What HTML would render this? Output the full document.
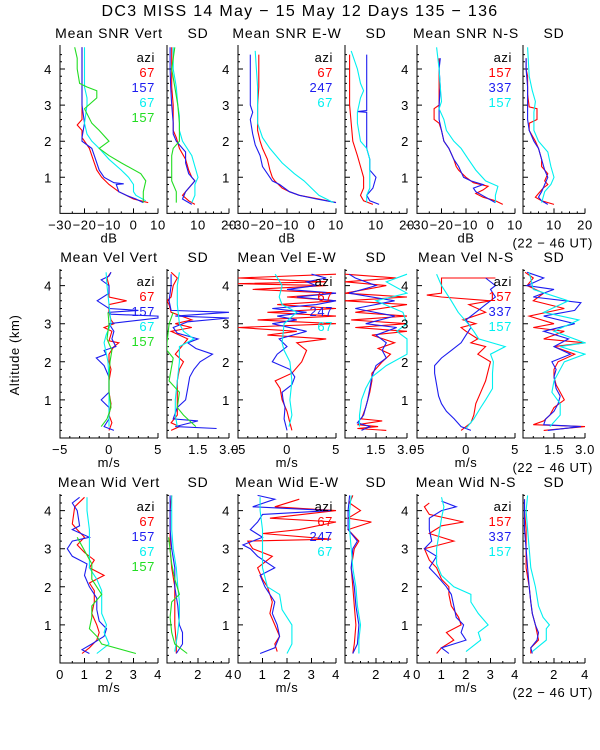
<!DOCTYPE html>
<html><head><meta charset="utf-8"><style>
body{margin:0;background:#fff;}
svg{display:block;font-family:"Liberation Sans",sans-serif;}
text{font-size:13px;fill:#000;letter-spacing:0.6px;}
</style></head><body>
<svg id="chart" width="600" height="750" viewBox="0 0 600 750" xmlns="http://www.w3.org/2000/svg">
<text x="300" y="16" text-anchor="middle" style="font-size:16px;letter-spacing:1.3px">DC3 MISS  14 May − 15 May 12 Days 135 − 136</text>
<text transform="translate(19,355) rotate(-90)" text-anchor="middle">Altitude (km)</text>
</svg>
<script>
// ---------- data ----------
const colors = {r:"#ff0000", b:"#1c1cf0", c:"#00f0f0", g:"#22dd22"};
const rowTitles = [["Mean SNR Vert","SD","Mean SNR E-W","SD","Mean SNR N-S","SD"],
  ["Mean Vel Vert","SD","Mean Vel E-W","SD","Mean Vel N-S","SD"],
  ["Mean Wid Vert","SD","Mean Wid E-W","SD","Mean Wid N-S","SD"]];
const legendAzi = [[["67","r"],["157","b"],["67","c"],["157","g"]],[["67","r"],["247","b"],["67","c"]],[["157","r"],["337","b"],["157","c"]]];
const meanTicks = [[-30,-20,-10,0,10],[-5,0,5],[0,1,2,3,4]];
const sdTicks = [[10,20],[1.5,3.0],[2,4]];
const sdTickText = [["10","20"],["1.5","3.0"],["2","4"]];
const units = ["dB","m/s","m/s"];

// SNR row [alt, value]
const snrVertR=[[0.3,6],[0.35,3],[0.4,0],[0.5,-3],[0.6,-6],[0.8,-10],[1.0,-13],[1.2,-15],[1.4,-16],[1.6,-17],[1.8,-18],[2.0,-20],[2.1,-21],[2.3,-21],[2.45,-23],[2.6,-21],[3,-21],[3.5,-21],[4,-21],[4.6,-21]];
const snrVertB=[[0.3,4],[0.4,1],[0.5,-3],[0.6,-6],[0.8,-7],[0.82,-4],[0.85,-8],[1,-12],[1.2,-14],[1.4,-15],[1.6,-16],[1.8,-17],[2.0,-21],[2.1,-21],[2.5,-20],[3,-21],[3.5,-21],[4,-21],[4.6,-21]];
const snrVertC=[[0.35,5],[0.5,1],[0.6,0],[0.8,0],[1.0,-2],[1.2,-5],[1.5,-10],[1.8,-14],[2.0,-17],[2.2,-19],[2.5,-20],[3,-19],[3.2,-19],[3.5,-20],[4,-20],[4.6,-20]];
const snrVertG=[[0.3,4],[0.6,4],[0.9,5],[1.1,3],[1.4,-5],[1.6,-10],[1.8,-14],[2.0,-10],[2.3,-14],[2.5,-17],[2.9,-20],[3.2,-15],[3.4,-15],[3.5,-19],[3.6,-22],[4.0,-23],[4.3,-23],[4.6,-24]];
const sdSnrVertR=[[0.25,9],[0.35,7],[0.5,5],[0.7,7],[0.9,9],[1.0,8],[1.2,7],[1.5,6],[1.8,4],[2.1,3],[2.3,2],[2.5,2],[3,2],[3.5,1.5],[4,1.5],[4.6,1.5]];
const sdSnrVertB=[[0.25,8],[0.4,5],[0.6,6],[0.8,8],[0.9,9],[1.1,7],[1.4,6],[1.7,6],[2.0,3],[2.2,2],[2.5,2],[3,1.5],[3.5,1.2],[4,1],[4.6,1]];
const sdSnrVertC=[[0.3,8],[0.5,9],[0.8,9],[1.0,10],[1.3,9],[1.6,8],[2.0,5],[2.3,4],[2.7,4],[3,3.5],[3.5,3],[4,2],[4.6,2]];
const sdSnrVertG=[[0.3,3],[0.6,3],[0.9,1.5],[1.3,1.5],[1.6,1.5],[1.8,2],[2,4],[2.5,4],[3,3.5],[3.5,2.5],[4,1.5],[4.6,2.5]];
const snrEwR=[[0.3,10],[0.4,3],[0.5,-5],[0.6,-9],[0.7,-12],[0.9,-15],[1.0,-16],[1.2,-17],[1.5,-18],[1.8,-20],[2.0,-21],[2.3,-22],[2.6,-22],[3,-22],[3.5,-21.5],[4,-21.5],[4.4,-21.5]];
const snrEwB=[[0.3,10],[0.4,2],[0.5,-5],[0.6,-9],[0.8,-13],[0.9,-16],[1.1,-18],[1.3,-20],[1.6,-21],[1.9,-23],[2.2,-24],[2.6,-25],[2.8,-24],[3,-25],[3.5,-25],[4,-25],[4.4,-25]];
const snrEwC=[[0.3,9],[0.5,3],[0.7,0],[0.9,-3],[1.1,-7],[1.4,-12],[1.8,-17],[2.1,-20],[2.5,-22],[3,-22],[3.5,-22],[4,-22.5],[4.5,-23]];
const sdSnrEwR=[[0.25,9],[0.35,6],[0.5,5],[0.7,6],[1.0,6],[1.3,5],[1.6,4],[2,2.5],[2.5,2],[3,1.5],[3.5,1.5],[4,1.5],[4.4,1.5]];
const sdSnrEwB=[[0.25,11],[0.35,8],[0.5,7],[0.7,9],[1.0,10],[1.2,8],[1.5,8],[1.8,7],[2,7],[2.5,7],[2.8,7],[2.82,4],[2.85,7],[3.5,7],[4,7],[4.4,7]];
const sdSnrEwC=[[0.3,7],[0.5,7],[0.7,8],[1.0,8],[1.5,8],[1.8,7],[2,5],[2.5,4],[2.8,4],[3.2,5],[3.4,6],[3.6,5],[4,4],[4.5,2]];
const snrNsR=[[0.25,5],[0.35,2],[0.45,-3],[0.55,-6],[0.65,-3],[0.75,-1],[0.85,-7],[1.0,-10],[1.2,-13],[1.3,-14],[1.5,-15],[1.8,-17],[2,-19],[2.3,-20],[2.5,-21],[2.6,-23],[2.9,-23],[3,-21],[3.5,-21],[4,-21],[4.3,-21]];
const snrNsB=[[0.3,2],[0.45,-2],[0.6,-6],[0.7,-7],[0.8,-3],[0.9,-8],[1.0,-11],[1.3,-13],[1.5,-15],[1.8,-17],[2,-19],[2.3,-20],[2.6,-21],[3,-21],[3.5,-20.5],[4,-21],[4.3,-20.5]];
const snrNsC=[[0.3,2],[0.5,2],[0.75,3],[0.9,-2],[1.2,-6],[1.5,-9],[1.8,-12],[2.0,-15],[2.3,-18],[2.6,-19],[2.9,-21],[3.1,-20],[3.5,-20.5],[4,-21],[4.6,-22]];
const sdSnrNsR=[[0.25,10],[0.35,6],[0.45,4],[0.55,5],[0.7,6.5],[0.8,8],[0.9,7],[1.1,8],[1.3,6],[1.5,6],[1.8,5],[2.0,4],[2.3,2],[2.5,2],[2.6,4.5],[2.9,4.5],[2.95,2],[3.3,1.5],[3.8,1.5],[4,1],[4.3,1]];
const sdSnrNsB=[[0.25,8],[0.35,6],[0.45,5],[0.6,6],[0.8,7],[1.0,8],[1.2,7],[1.5,6],[1.8,5],[2,3.5],[2.3,2],[2.6,1.5],[3,1.5],[3.5,1.5],[4,1],[4.3,1]];
const sdSnrNsC=[[0.3,6],[0.6,7],[0.8,9],[1.0,10],[1.3,9],[1.7,8],[2.0,5],[2.3,3.5],[2.8,3.5],[3.1,4],[3.4,3],[3.8,2],[4.6,1.5]];

// Velocity row
const velVertR=[[0.2,0],[0.4,0.3],[0.6,0],[0.9,0.2],[1.2,0],[1.5,0],[1.8,0.2],[2.0,0],[2.2,0],[2.4,0.5],[2.5,1],[2.55,0],[2.8,0.3],[2.9,-0.5],[3.0,0.5],[3.1,0.2],[3.3,0],[3.5,0],[3.6,1.8],[3.7,0],[4.0,0],[4.2,-0.2],[4.35,0.2]];
const velVertB=[[0.2,0.5],[0.3,-0.5],[0.5,0],[0.8,0],[1.0,-0.8],[1.2,0],[1.6,0],[1.9,-0.5],[2.1,-1.3],[2.2,-0.3],[2.3,-0.5],[2.4,0.7],[2.6,0.3],[2.8,0.5],[3.0,0],[3.15,5],[3.2,5],[3.25,0.2],[3.3,0],[3.35,3],[3.4,0],[3.6,-1.2],[3.8,0],[4.0,0],[4.15,-0.8],[4.25,0],[4.35,0.2]];
const velVertC=[[0.3,0],[0.7,0],[1.0,0],[1.5,0],[2.0,-0.1],[2.5,-0.5],[2.7,-0.3],[3.0,0.2],[3.5,0],[4.0,-0.2],[4.35,-0.3]];
const velVertG=[[0.3,-0.8],[0.5,-0.2],[0.8,0.2],[1.2,0],[1.6,0],[2.0,0.1],[2.3,0.3],[2.6,-0.2],[3.0,0],[3.3,-0.1]];
const sdVelVertR=[[0.2,0.2],[0.3,0.6],[0.4,0.2],[0.6,0.5],[1.0,0.5],[1.5,0.5],[1.8,0.6],[2.0,0.8],[2.2,0.4],[2.4,0.7],[2.6,1.0],[2.8,0.2],[2.9,1.2],[3.0,0.4],[3.1,1.2],[3.3,0.2],[3.5,0.1],[3.6,0],[3.7,0.2],[4.0,0.3],[4.2,0.5],[4.35,0.2]];
const sdVelVertB=[[0.25,2.4],[0.3,0.4],[0.45,1.5],[0.5,0.3],[0.8,0.5],[1.0,0.9],[1.3,1.0],[1.6,1.1],[1.8,1.3],[2.0,1.6],[2.2,2.2],[2.35,1.4],[2.5,1.0],[2.6,1.5],[2.75,0.5],[2.9,0.3],[3.05,1.0],[3.15,3.0],[3.2,0.4],[3.3,3.0],[3.35,0.2],[3.6,0.1],[4.0,0.2],[4.3,0.2]];
const sdVelVertC=[[0.3,0.5],[0.6,0.4],[1.0,0.4],[1.5,0.5],[2.0,0.6],[2.4,0.6],[2.6,1.3],[2.8,0.8],[3.0,0.6],[3.5,0.5],[4.0,0.5],[4.35,0.6]];
const sdVelVertG=[[0.3,1.4],[0.6,0.8],[0.8,0.5],[1.2,0.6],[1.5,0.1],[1.8,0.2],[2.1,0.3],[2.3,0],[2.5,0],[3.0,0.1],[3.3,0.3]];
const velEwR=[[0.2,0.5],[0.4,0.3],[0.7,0],[1.0,-0.5],[1.3,-0.7],[1.5,-1.2],[1.7,0.5],[2.0,1.5],[2.3,2.0],[2.5,1.0],[2.6,4.0],[2.7,-2],[2.8,1],[2.9,-5],[3.0,5],[3.1,-3],[3.2,5],[3.3,-2],[3.4,5],[3.5,-1],[3.6,5],[3.7,0],[3.8,5],[3.9,-3.5],[4.0,4],[4.05,-5],[4.1,4],[4.2,-5],[4.3,5]];
const velEwB=[[0.2,0],[0.5,-0.3],[0.8,-0.2],[1.0,-0.4],[1.2,-0.5],[1.4,0.5],[1.6,0.8],[1.8,0.3],[2.0,-1.5],[2.2,-1.0],[2.4,0],[2.6,-0.8],[2.8,2],[3.0,-1.5],[3.1,1],[3.2,-1],[3.3,2],[3.4,-1.5],[3.5,3],[3.6,5],[3.7,1],[3.8,5],[3.9,0],[4.0,3],[4.1,2],[4.2,4],[4.3,2.5]];
const velEwC=[[0.3,0.2],[0.6,0.5],[1.0,0.3],[1.5,0.5],[2.0,0.3],[2.3,-0.3],[2.5,-0.5],[3.0,-0.3],[3.3,1],[3.5,-0.5],[3.7,-0.8],[4.0,-0.5],[4.3,-1.2]];
const sdVelEwR=[[0.2,2.0],[0.25,0.6],[0.3,1.6],[0.35,0.6],[0.45,1.8],[0.5,0.8],[0.8,1.0],[1.2,1.2],[1.5,1.3],[1.7,1.3],[2.0,1.8],[2.2,2.2],[2.35,1.6],[2.5,2.4],[2.7,1.3],[2.8,3],[2.9,0.5],[3.0,3],[3.1,0.3],[3.2,3],[3.3,0.5],[3.5,3],[3.6,0],[3.7,3],[3.8,0],[4.0,2],[4.1,0],[4.2,2.5],[4.3,0]];
const sdVelEwB=[[0.2,0.8],[0.3,1.2],[0.4,0.6],[0.6,0.9],[1.0,1.1],[1.3,1.2],[1.6,1.3],[1.9,1.5],[2.1,2.0],[2.3,1.8],[2.5,2.0],[2.7,1.5],[2.9,2.5],[3.0,1.0],[3.2,2.4],[3.4,0.5],[3.6,2.4],[3.8,0.2],[4.0,1.5],[4.2,0.5],[4.3,0.2]];
const sdVelEwC=[[0.3,0.7],[0.6,0.7],[1.0,0.8],[1.3,1.0],[1.6,1.3],[1.9,2.0],[2.2,3.0],[2.6,3.0],[2.8,2.5],[3.0,3.0],[3.3,2.8],[3.6,1.5],[3.8,3.0],[4.1,2.0],[4.3,3.0]];
const velNsR=[[0.2,-0.5],[0.4,0.5],[0.6,0.8],[0.9,1.0],[1.2,1.5],[1.5,2.0],[1.8,2.3],[2.0,2.5],[2.2,1.2],[2.4,2.0],[2.5,0.5],[2.6,1.2],[2.8,0],[2.9,-0.5],[3.0,1.0],[3.1,-0.3],[3.3,2],[3.5,0.3],[3.6,2.5],[3.7,-2.5],[3.75,-4],[3.8,-2.5],[4.2,-2.5],[4.2,3]];
const velNsB=[[0.2,0.5],[0.3,-0.5],[0.5,-1.2],[0.7,-2.0],[0.9,-2.5],[1.1,-2.8],[1.4,-3.0],[1.7,-3.2],[1.9,-3.2],[2.1,-2.5],[2.3,-1.5],[2.5,-0.5],[2.7,0],[2.9,0.5],[3.1,0],[3.3,1.0],[3.5,2.0],[3.7,3],[3.9,2.5],[4.0,3],[4.2,2]];
const velNsC=[[0.25,0],[0.5,0.8],[0.8,1.5],[1.0,2.0],[1.3,2.7],[1.7,2.7],[2.0,2.8],[2.2,2.5],[2.4,4],[2.6,1.3],[2.8,0.8],[3.0,0.2],[3.3,-0.8],[3.6,-1.5],[4.0,-2.5],[4.3,-3.0]];
const sdVelNsR=[[0.2,1.0],[0.3,3],[0.35,0.5],[0.45,1.0],[0.6,1.3],[0.8,1.5],[1.0,2.0],[1.2,1.8],[1.4,1.6],[1.6,1.5],[1.8,1.5],[2.0,1.7],[2.2,2.5],[2.4,1.5],[2.5,3],[2.6,1.0],[2.8,2.0],[2.9,0.5],[3.0,1.5],[3.2,0.3],[3.4,2.0],[3.6,0.5],[3.8,1.0],[4.0,0.2],[4.2,0.5],[4.35,0.1]];
const sdVelNsB=[[0.2,1.2],[0.3,2.8],[0.35,1.0],[0.5,1.1],[0.7,1.5],[0.9,1.7],[1.1,1.8],[1.3,1.6],[1.6,1.5],[1.8,1.6],[2.0,1.4],[2.2,2.3],[2.4,1.5],[2.6,2.2],[2.8,1.0],[3.0,2.5],[3.2,1.0],[3.35,2.5],[3.55,2.8],[3.7,0.5],[3.9,1.5],[4.0,0.2],[4.2,1.0],[4.35,0.2]];
const sdVelNsC=[[0.3,1.3],[0.6,1.8],[0.9,1.8],[1.2,1.4],[1.5,1.5],[1.8,1.8],[2.0,2.0],[2.2,3.0],[2.4,1.8],[2.5,3.0],[2.8,1.5],[3.1,2.7],[3.3,1.0],[3.6,2.2],[3.9,0.5],[4.35,0.3]];

// Width row
const widVertR=[[0.25,0.9],[0.4,1.2],[0.6,1.5],[0.8,1.6],[1.0,1.5],[1.3,1.3],[1.6,1.4],[1.9,1.4],[2.1,1.2],[2.3,1.8],[2.5,1.2],[2.7,1.4],[2.9,1.0],[3.1,0.7],[3.3,1.0],[3.5,0.7],[3.65,0.5],[4.1,0.6],[4.35,1.0]];
const widVertB=[[0.25,1.2],[0.35,0.9],[0.5,1.3],[0.7,1.8],[0.9,1.9],[1.1,1.6],[1.4,1.5],[1.7,1.5],[2.0,1.2],[2.3,1.0],[2.6,1.1],[2.8,0.5],[3.0,0.3],[3.2,0.5],[3.3,1.2],[3.5,0.5],[3.6,0.8],[4.0,0.7],[4.2,0.5],[4.35,0.8]];
const widVertC=[[0.25,1.5],[0.5,2.0],[0.8,1.8],[1.0,1.9],[1.3,1.7],[1.6,1.7],[1.9,1.7],[2.2,1.5],[2.5,1.2],[3.0,1.2],[3.5,1.2],[4.0,1.1],[4.35,1.1]];
const widVertG=[[0.25,3.1],[0.5,1.7],[0.7,1.5],[0.9,1.2],[1.2,1.3],[1.5,1.3],[1.8,1.7],[2.2,1.3],[2.5,1.3],[2.6,1.3],[3.3,0.7]];
const sdWidVertR=[[0.25,0.6],[0.5,0.6],[1.0,0.5],[1.5,0.5],[2.0,0.5],[2.5,0.3],[3.0,0.2],[3.5,0.2],[4.0,0.2],[4.4,0.3]];
const sdWidVertB=[[0.25,0.6],[0.5,1.0],[0.8,1.0],[1.0,0.8],[1.5,0.7],[2.0,0.5],[2.5,0.5],[3.0,0.3],[3.5,0.2],[4.0,0.2],[4.4,0.2]];
const sdWidVertC=[[0.3,0.5],[0.8,0.7],[1.2,0.8],[1.6,0.8],[2.0,0.7],[2.5,0.6],[3.0,0.4],[3.5,0.3],[4.0,0.3],[4.4,0.3]];
const sdWidVertG=[[0.25,1.3],[0.5,0.5],[0.8,0.3],[1.2,0.2],[1.6,0.3],[1.8,0.8],[2.2,0.5],[2.6,0.3],[3.3,0.1]];
const widEwR=[[0.3,1.6],[0.5,1.5],[0.7,1.7],[1.0,1.5],[1.3,1.3],[1.6,1.4],[2.0,1.2],[2.2,1.0],[2.5,0.8],[2.8,1.4],[3.0,0.6],[3.2,0.4],[3.25,3.8],[3.4,1.0],[3.5,2.5],[3.7,4],[3.8,1.3],[4.0,4],[4.1,1.5],[4.3,2.5]];
const widEwB=[[0.25,0.9],[0.4,1.5],[0.7,1.7],[1.0,1.6],[1.3,1.4],[1.6,1.5],[2.0,1.1],[2.3,0.9],[2.5,1.5],[2.8,0.8],[3.0,0.5],[3.1,0.2],[3.3,1.0],[3.5,0.5],[3.7,0.8],[3.9,1.0],[4.0,3.8],[4.1,0.6],[4.3,1.5],[4.4,0.8]];
const widEwC=[[0.25,2.0],[0.5,2.2],[1.0,2.2],[1.4,1.8],[1.8,1.7],[2.0,1.2],[2.5,1.0],[3.0,1.0],[3.5,1.0],[4.0,0.9],[4.35,0.9]];
const sdWidEwR=[[0.25,0.5],[0.5,0.6],[1.0,0.7],[1.5,0.6],[2.0,0.5],[2.5,0.4],[3.0,0.6],[3.2,0.9],[3.5,0.2],[3.7,1.7],[3.8,0.2],[4.0,1.0],[4.2,0.3],[4.4,0.5]];
const sdWidEwB=[[0.25,0.5],[0.5,0.8],[1.0,0.9],[1.5,0.7],[2.0,0.6],[2.5,0.4],[3.0,0.5],[3.2,0.8],[3.5,0.2],[4.0,0.2],[4.4,0.3]];
const sdWidEwC=[[0.25,0.9],[0.6,0.9],[1.0,1.0],[1.5,0.8],[2.0,0.7],[2.5,0.5],[3.0,0.4],[3.5,0.3],[4.0,0.3],[4.4,0.4]];
const widNsR=[[0.25,0.8],[0.4,1.0],[0.6,1.5],[0.8,1.2],[1.0,1.8],[1.2,1.7],[1.5,1.4],[1.8,1.3],[2.0,1.3],[2.2,1.0],[2.5,0.8],[2.7,0.5],[3.0,0.3],[3.2,1.5],[3.4,0.5],[3.6,1.0],[3.7,1.9],[3.9,0.5],[4.1,0.3],[4.2,0.5]];
const widNsB=[[0.25,1.3],[0.4,1.0],[0.6,2.0],[0.8,1.8],[1.0,1.9],[1.2,1.6],[1.5,1.5],[1.8,1.4],[2.0,1.2],[2.3,0.8],[2.5,0.5],[2.8,0.8],[3.0,0.3],[3.2,0.6],[3.5,0.5],[3.8,0.5],[4.0,1.0],[4.1,1.6],[4.25,1.0]];
const widNsC=[[0.3,2.0],[0.6,2.6],[0.8,2.5],[1.0,2.9],[1.3,2.5],[1.6,2.2],[1.8,2.2],[2.0,1.5],[2.3,1.0],[2.6,0.8],[3.0,0.8],[3.4,0.9],[3.8,1.0],[4.1,1.1],[4.35,1.0]];
const sdWidNsR=[[0.25,0.5],[0.4,0.5],[0.6,1.0],[0.8,0.9],[1.0,0.8],[1.3,0.6],[1.6,0.5],[2.0,0.4],[2.5,0.2],[3.0,0.2],[3.5,0.2],[4.0,0.1],[4.3,0.1]];
const sdWidNsB=[[0.25,0.6],[0.4,0.5],[0.6,0.9],[0.8,1.0],[1.0,0.8],[1.3,0.6],[1.6,0.5],[2.0,0.4],[2.5,0.3],[3.0,0.2],[3.5,0.1],[4.0,0.1],[4.3,0.1]];
const sdWidNsC=[[0.3,0.6],[0.6,1.5],[0.9,1.5],[1.0,1.7],[1.2,1.3],[1.5,1.0],[2.0,0.8],[2.5,0.5],[3.0,0.4],[3.5,0.3],[4.0,0.2],[4.4,0.3]];

const panelSeries = [
 [[["r",snrVertR],["b",snrVertB],["c",snrVertC],["g",snrVertG]],[["r",sdSnrVertR],["b",sdSnrVertB],["c",sdSnrVertC],["g",sdSnrVertG]],
  [["r",snrEwR],["b",snrEwB],["c",snrEwC]],[["r",sdSnrEwR],["b",sdSnrEwB],["c",sdSnrEwC]],
  [["r",snrNsR],["b",snrNsB],["c",snrNsC]],[["r",sdSnrNsR],["b",sdSnrNsB],["c",sdSnrNsC]]],
 [[["r",velVertR],["b",velVertB],["c",velVertC],["g",velVertG]],[["r",sdVelVertR],["b",sdVelVertB],["c",sdVelVertC],["g",sdVelVertG]],
  [["r",velEwR],["b",velEwB],["c",velEwC]],[["r",sdVelEwR],["b",sdVelEwB],["c",sdVelEwC]],
  [["r",velNsR],["b",velNsB],["c",velNsC]],[["r",sdVelNsR],["b",sdVelNsB],["c",sdVelNsC]]],
 [[["r",widVertR],["b",widVertB],["c",widVertC],["g",widVertG]],[["r",sdWidVertR],["b",sdWidVertB],["c",sdWidVertC],["g",sdWidVertG]],
  [["r",widEwR],["b",widEwB],["c",widEwC]],[["r",sdWidEwR],["b",sdWidEwB],["c",sdWidEwC]],
  [["r",widNsR],["b",widNsB],["c",widNsC]],[["r",sdWidNsR],["b",sdWidNsB],["c",sdWidNsC]]]
];

// ---------- layout ----------
const NS="http://www.w3.org/2000/svg";
const svg=document.getElementById("chart");
const colLeft=[60,167,238,345,417,523];
const colW=[98,62,98,62,98,62];
const rowGeom=[{zero:213.4,pk:36.1,top:45},{zero:438,pk:38.1,top:269},{zero:663,pk:38.1,top:494}];
const meanRange=[[-30,10],[-5,5],[0,4]];
const sdRange=[[0,20],[0,3],[0,4]];
const minorStep=[[5,2.5],[1,0.5],[0.5,0.5]];

function mk(tag,attrs,parent){const e=document.createElementNS(NS,tag);for(const k in attrs)e.setAttribute(k,attrs[k]);(parent||svg).appendChild(e);return e;}
function fmt(v){return v<0?"−"+Math.abs(v):String(v);}

for(let r=0;r<3;r++){
  const g=rowGeom[r];
  for(let c=0;c<6;c++){
    const isSD=c%2===1;
    const L=colLeft[c],W=colW[c];
    const rng=isSD?sdRange[r]:meanRange[r];
    const xs=v=>L+(v-rng[0])/(rng[1]-rng[0])*W;
    const ys=a=>g.zero-a*g.pk;
    const grp=mk("g",{});
    
    
    const t=mk("text",{x:L+W/2,y:g.top-7,"text-anchor":"middle",style:"font-size:14px;letter-spacing:0.8px"},grp);
    
    
    t.textContent=rowTitles[r][c];
    const ax=mk("path",{d:`M${L},${g.top}V${g.zero}H${L+W}`,stroke:"#000",fill:"none","stroke-width":1},grp);
    
    
    let yt="";
    for(let a=0.2;a<=4.6;a+=0.2){const y=ys(a);if(y<g.top)break;const major=Math.abs(a-Math.round(a))<1e-6;yt+=`M${L},${y.toFixed(1)}h${major?5:2}`;}
    mk("path",{d:yt,stroke:"#000","stroke-width":1},grp);
    if(!isSD){for(let k=1;k<=4;k++){const tl=mk("text",{x:L-8,y:ys(k)+5,"text-anchor":"end"},grp);
      
      
      tl.textContent=k;}}
    let xt="";const ms=minorStep[r][isSD?1:0];
    for(let v=rng[0];v<=rng[1]+1e-6;v+=ms){xt+=`M${xs(v).toFixed(1)},${g.zero}v-2`;}
    const majors=isSD?sdTicks[r]:meanTicks[r];
    majors.forEach(v=>{xt+=`M${xs(v).toFixed(1)},${g.zero}v-5`;});
    mk("path",{d:xt,stroke:"#000","stroke-width":1},grp);
    majors.forEach((v,i)=>{const tl=mk("text",{x:xs(v),y:g.zero+16,"text-anchor":"middle"},grp);
      
      
      tl.textContent=isSD?sdTickText[r][i]:fmt(v);});
    if(!isSD){const u=mk("text",{x:L+W/2,y:g.zero+29,"text-anchor":"middle"},grp);
      
      
      u.textContent=units[r];}
    const cid="clip"+r+c;
    const cp=mk("clipPath",{id:cid},grp);mk("rect",{x:L,y:g.top-4,width:W+1,height:g.zero-g.top+4},cp);
    panelSeries[r][c].forEach(([col,arr])=>{
      const d=arr.map((p,i)=>(i?"L":"M")+xs(p[1]).toFixed(1)+","+ys(p[0]).toFixed(1)).join("");
      const pl=mk("path",{d:d,stroke:colors[col],fill:"none","stroke-width":1.1,"clip-path":`url(#${cid})`},grp);
      
      
    });
    if(!isSD){
      const leg=legendAzi[c/2];
      const lx=L+W-3;let ly=g.top+17;
      const h=mk("text",{x:lx,y:ly,"text-anchor":"end"},grp);
      
      
      h.textContent="azi";
      leg.forEach(([txt,col],i)=>{const e=mk("text",{x:lx,y:ly+15*(i+1),"text-anchor":"end",style:"fill:"+colors[col]},grp);
        
        
        e.textContent=txt;});
    }
  }
  const ut=mk("text",{x:593,y:g.zero+34,"text-anchor":"end"});
  
  
  ut.textContent="(22 − 46 UT)";
}
</script>
</body></html>
